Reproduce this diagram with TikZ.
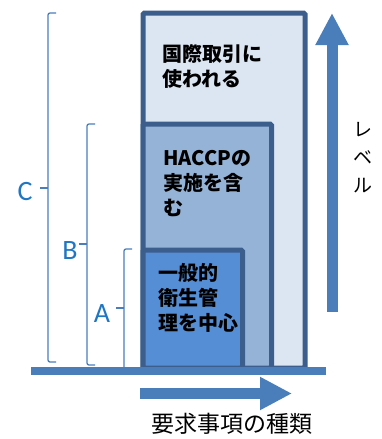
\documentclass[tikz,border=0pt]{standalone}
\usepackage{fontspec}
\setmainfont{Carlito}
\newfontfamily\jp{Noto Sans CJK JP}
\usetikzlibrary{arrows.meta}

\definecolor{edgeblue}{RGB}{59,94,140}
\definecolor{outerfill}{RGB}{220,230,242}
\definecolor{middlefill}{RGB}{149,179,215}
\definecolor{innerfill}{RGB}{85,142,213}
\definecolor{axisblue}{RGB}{74,126,187}
\definecolor{labelblue}{RGB}{31,119,196}

\tikzset{
  every box/.style={draw=edgeblue, line width=5pt, inner sep=0pt, outer sep=0pt,
    anchor=north west, rounded corners=1.5pt},
  box text/.style={anchor=north west, inner sep=0pt, align=left,
    font=\jp\bfseries\fontsize{20}{25}\selectfont},
  bracket/.style={draw=axisblue, line width=1.3pt, rounded corners=2pt},
  level/.style={text=labelblue, inner sep=0pt, font=\fontsize{28}{28}\selectfont},
  thick arrow/.style={draw=axisblue, line width=11pt,
    -{Triangle[length=32pt, width=31pt]}},
}

\begin{document}
\begin{tikzpicture}[x=1pt, y=-1pt]

    \useasboundingbox (0,0) rectangle (381,439);

    % brackets C, B, A
    \foreach \n/\x/\t/\m/\b/\lx/\ly in {C/48/13/188/362/25/192, B/87/124/244/365/70/251, A/124/249/308/370/102/314} {
      \draw [bracket] (\x+8,\t) -- (\x,\t) -- (\x,\b) -- (\x+8,\b);
      \draw [bracket] (\x,\m) -- (\x-8,\m);
      \node [level] (level-\n) at (\lx,\ly) {\n};
    }

    % nested boxes
    \foreach \n/\r/\t in {outer/305/13, middle/271.5/124, inner/242.5/250}
      \node [every box/.try, fill=\n fill, minimum width=\r pt-143pt,
        minimum height=368pt-\t pt] (\n) at (143,\t) {};

    \node [box text] (outer-text) at (162,44) {国際取引に\\使われる};
    \node [box text] (middle-text) at (163,150) {HACCPの\\実施を含\\む};
    \node [box text] (inner-text) at (158,263) {一般的\\衛生管\\理を中心};

    % axis
    \node [fill=axisblue, inner sep=0pt, minimum width=295pt, minimum height=7.5pt,
      anchor=north west] (axis) at (31,367) {};

    \coordinate (kind-start) at (140,393.5);
    \coordinate (kind-end) at (292,393.5);
    \draw [thick arrow] (kind-start) -- (kind-end);
    \node [inner sep=0pt, font=\jp\fontsize{23}{23}\selectfont] (kind-label) at (232,424) {要求事項の種類};

    \coordinate (rise-start) at (332,312);
    \coordinate (rise-end) at (332,13);
    \draw [thick arrow] (rise-start) -- (rise-end);
    \node [inner sep=0pt, anchor=north, align=center, font=\jp\fontsize{19}{28}\selectfont]
      (rise-label) at (363,122) {レ\\ベ\\ル};

\end{tikzpicture}
\end{document}
